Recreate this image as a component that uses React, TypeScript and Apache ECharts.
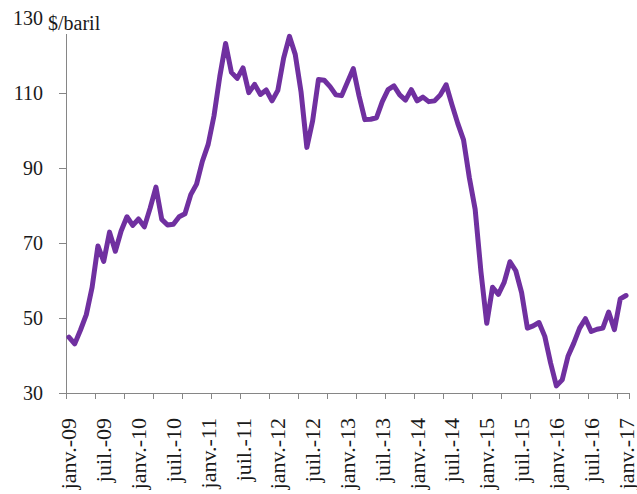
import React, { useEffect, useRef } from "react";
import * as echarts from "echarts";

const MONTHS = ["janv.", "févr.", "mars", "avr.", "mai", "juin", "juil.", "août", "sept.", "oct.", "nov.", "déc."];
const YEARS = ["09", "10", "11", "12", "13", "14", "15", "16", "17"];

const categories: string[] = [];
for (const y of YEARS) {
  for (const m of MONTHS) {
    categories.push(`${m}-${y}`);
    if (y === "17") break;
  }
}

const prices2009 = [44.9, 43.1, 46.8, 50.9, 58.2, 69.2, 65.1, 72.9, 67.8, 73.2, 77.0, 74.7];
const prices2010 = [76.4, 74.3, 79.3, 84.9, 76.3, 74.8, 75.0, 77.0, 77.8, 82.9, 85.7, 91.8];
const prices2011 = [96.3, 103.9, 114.4, 123.2, 115.5, 113.9, 116.7, 110.1, 112.3, 109.6, 110.8, 107.9];
const prices2012 = [110.7, 119.3, 125.1, 120.3, 110.3, 95.5, 102.6, 113.6, 113.4, 111.7, 109.5, 109.3];
const prices2013 = [112.9, 116.5, 109.2, 102.9, 103.0, 103.4, 107.7, 110.9, 111.9, 109.5, 108.1, 110.9];
const prices2014 = [107.9, 108.9, 107.7, 107.9, 109.5, 112.2, 106.9, 101.9, 97.5, 87.4, 79.0, 62.3];
const prices2015 = [48.6, 58.2, 56.3, 59.5, 65.0, 62.6, 56.8, 47.3, 47.9, 48.8, 45.1, 38.0];
const prices2016 = [31.9, 33.5, 39.8, 43.3, 47.3, 49.8, 46.4, 47.0, 47.3, 51.6, 46.9, 55.1];
const prices2017 = [56.0];

const values = [
  ...prices2009, ...prices2010, ...prices2011, ...prices2012, ...prices2013,
  ...prices2014, ...prices2015, ...prices2016, ...prices2017,
];

const yMin = 30;
const yMax = 130;
const yStep = 20;
const unitLabel = "$/baril";

const FONT = "'Liberation Serif', 'DejaVu Serif', serif";

export default function App() {
  const ref = useRef<HTMLDivElement>(null);
  useEffect(() => {
    if (!ref.current) return;
    const chart = echarts.init(ref.current, undefined, { renderer: "svg" });
    chart.setOption({
      animation: false,
      backgroundColor: "#ffffff",
      grid: { left: 66, right: 0, top: 18, bottom: 101, containLabel: false },
      xAxis: {
        type: "category",
        data: categories,
        boundaryGap: true,
        axisLine: { show: true, lineStyle: { color: "#868686", width: 1 } },
        axisTick: { show: true, interval: 4, length: 6, lineStyle: { color: "#868686" } },
        axisLabel: {
          interval: 5,
          rotate: 90,
          margin: 25,
          fontSize: 22,
          fontFamily: FONT,
          color: "#1a1a1a",
        },
        splitLine: { show: false },
      },
      yAxis: {
        type: "value",
        min: yMin,
        max: yMax,
        interval: yStep,
        axisLine: { show: true, lineStyle: { color: "#868686", width: 1 } },
        axisTick: { show: true, length: 7, lineStyle: { color: "#868686" } },
        axisLabel: { margin: 23, fontSize: 20, fontFamily: FONT, color: "#1a1a1a" },
        splitLine: { show: false },
      },
      graphic: [
        {
          type: "rect",
          left: 47,
          top: 14,
          shape: { width: 62, height: 20 },
          style: { fill: "#ffffff" },
          z: 100,
        },
        {
          type: "text",
          left: 48,
          top: 13,
          style: { text: unitLabel, fontSize: 20, fontFamily: FONT, fill: "#1a1a1a" },
          z: 101,
        },
      ],
      series: [
        {
          type: "line",
          data: values,
          showSymbol: false,
          symbol: "none",
          lineStyle: { color: "#7030A0", width: 5, cap: "round", join: "round" },
          itemStyle: { color: "#7030A0" },
        },
      ],
    });
    return () => chart.dispose();
  }, []);
  return (
    <div
      ref={ref}
      style={{ position: "fixed", left: 0, top: 0, width: 637, height: 494 }}
    />
  );
}
